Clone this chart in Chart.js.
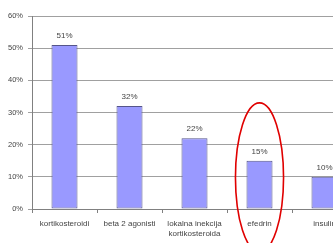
<!DOCTYPE html>
<html><head><meta charset="utf-8">
<script src="https://cdn.jsdelivr.net/npm/chart.js@4"></script>
<style>
html,body{margin:0;padding:0;background:#fff;overflow:hidden;width:333px;height:243px;}
#wrap{width:360px;height:243px;}
</style></head>
<body><div id="wrap"><canvas id="c" width="360" height="243"></canvas></div>
<script>
const categories = ['kortikosteroidi', 'beta 2 agonisti', ['lokalna inekcija', 'kortikosteroida'], 'efedrin', 'insulin'];
const values = [51, 32, 22, 15, 10];
const yTicks = [0, 10, 20, 30, 40, 50, 60];
const highlightIndex = 3;           // circled category
const highlightRange = [-13.4, 33]; // vertical extent of the circle, in % units

const FONT = '"Liberation Sans", Arial, sans-serif';
const TEXT = '#444';

const labelPlugin = {
  id: 'valueLabels',
  afterDatasetsDraw(chart) {
    const ctx = chart.ctx;
    const meta = chart.getDatasetMeta(0);
    ctx.save();
    ctx.font = '8px ' + FONT;
    ctx.fillStyle = TEXT;
    ctx.textAlign = 'center';
    ctx.textBaseline = 'middle';
    meta.data.forEach((bar, i) => {
      ctx.fillText(values[i] + '%', bar.x, bar.y - 9);
    });
    ctx.restore();
  }
};

const ellipsePlugin = {
  id: 'ellipse',
  afterDraw(chart) {
    const x = chart.scales.x, y = chart.scales.y;
    const cx = x.getPixelForValue(highlightIndex);
    const catW = x.getPixelForValue(1) - x.getPixelForValue(0);
    const top = y.getPixelForValue(highlightRange[1]);
    const bot = y.getPixelForValue(highlightRange[0]);
    const ctx = chart.ctx;
    ctx.save();
    ctx.strokeStyle = '#e00000';
    ctx.lineWidth = 1.6;
    ctx.beginPath();
    ctx.ellipse(cx, (top + bot) / 2, catW * 0.37, (bot - top) / 2, 0, 0, Math.PI * 2);
    ctx.stroke();
    ctx.restore();
  }
};

new Chart(document.getElementById('c'), {
  type: 'bar',
  data: {
    labels: categories,
    datasets: [{
      data: values,
      backgroundColor: '#9999ff',
      borderColor: '#55558a',
      borderWidth: 1,
      borderSkipped: false,
      categoryPercentage: 0.8,
      barPercentage: 0.5
    }]
  },
  options: {
    responsive: false,
    animation: false,
    events: [],
    layout: { padding: { top: 16, right: 3, left: 0, bottom: 0 } },
    plugins: { legend: { display: false }, tooltip: { enabled: false } },
    scales: {
      x: {
        offset: true,
        grid: { display: true, drawOnChartArea: false, offset: true, tickLength: 4, color: '#808080' },
        border: { color: '#808080' },
        ticks: { font: { family: FONT, size: 8 }, color: TEXT, padding: 6, maxRotation: 0, autoSkip: false },
        afterFit(s) { s.height = 34; }
      },
      y: {
        min: 0, max: 60,
        afterBuildTicks(s) { s.ticks = yTicks.map(v => ({ value: v })); },
        grid: { color: '#a0a0a0', tickLength: 4 },
        border: { color: '#808080' },
        ticks: { font: { family: FONT, size: 7.5 }, color: TEXT, padding: 5, callback: v => v + '%' },
        afterFit(s) { s.width = 32; }
      }
    }
  },
  plugins: [labelPlugin, ellipsePlugin]
});
</script>
</body></html>
